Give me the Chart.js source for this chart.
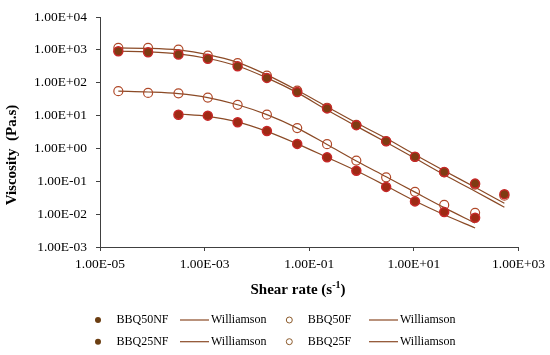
<!DOCTYPE html>
<html>
<head>
<meta charset="utf-8">
<script src="https://cdn.jsdelivr.net/npm/chart.js@4.4.1/dist/chart.umd.min.js"></script>
<style>
  html, body { margin: 0; padding: 0; background: #fff; }
  #wrap { position: relative; width: 550px; height: 355px; }
</style>
</head>
<body>
<div id="wrap"><canvas id="chart" width="550" height="355"></canvas></div>
<script>
// Shear rate (s-1) of each measured step
const shearRate = [2.24e-5, 8.3e-5, 3.16e-4, 1.15e-3, 4.27e-3, 1.55e-2, 5.89e-2, 0.219, 0.794, 2.95, 10.5, 38.0, 148, 537];

// Viscosity (Pa.s), measured and Williamson fit
const bbq50nf    = [912, 851, 724, 537, 316, 141, 52.5, 16.6, 5.13, 1.66, 0.562, 0.191, 0.0851, 0.0407];
const bbq50nfFit = [912, 871, 759, 550, 324, 141, 50.1, 14.8, 4.79, 1.55, 0.501, 0.158, 0.0501, 0.0162];
const bbq50f     = [1148, 1148, 1023, 676, 398, 166, 57.5, 17.4, 5.25, 1.66, 0.55, 0.186, 0.0794, 0.0363];
const bbq50fFit  = [1148, 1122, 1000, 724, 417, 174, 58.9, 18.6, 6.03, 2.04, 0.646, 0.209, 0.0661, 0.0214];
const bbq25nf    = [null, null, 10.7, 10.0, 6.31, 3.39, 1.38, 0.537, 0.209, 0.0676, 0.0245, 0.0117, 0.00776, null];
const bbq25nfFit = [null, null, 11.2, 9.55, 6.46, 3.31, 1.38, 0.537, 0.209, 0.0724, 0.0251, 0.00955, 0.0038, null];
const bbq25f     = [55.6, 49.0, 47.9, 35.5, 21.4, 10.7, 4.17, 1.35, 0.427, 0.132, 0.0479, 0.0191, 0.011, null];
const bbq25fFit  = [55.6, 52.5, 46.8, 35.5, 21.4, 10.7, 4.17, 1.32, 0.417, 0.138, 0.0468, 0.0158, 0.00537, null];

const xTicks = [1e-5, 1e-3, 1e-1, 1e1, 1e3];
const yTicks = [1e-3, 1e-2, 1e-1, 1, 10, 100, 1000, 10000];

const FONT = "'Liberation Serif', 'Times New Roman', serif";
const LINE = "#8B4A26";

function pts(ys) {
    return shearRate.map((x, i) => ({ x: x, y: ys[i] })).filter(p => p.y !== null);
}

function sci(v) {
    const e = Math.round(Math.log10(v));
    const m = (v / Math.pow(10, e)).toFixed(2);
    return m + "E" + (e < 0 ? "-" : "+") + String(Math.abs(e)).padStart(2, "0");
}

function markerSet(label, ys, filled, fill) {
    return {
        label: label,
        data: pts(ys),
        showLine: false,
        pointRadius: 4.5,
        pointBorderWidth: filled ? 1.5 : 1.2,
        pointBackgroundColor: filled ? fill : "rgba(255,255,255,0)",
        pointBorderColor: filled ? "#C62828" : "#B04A2A",
        order: 1,
        legendFilled: filled
    };
}

function fitSet(ys) {
    return {
        label: "Williamson",
        data: pts(ys),
        showLine: true,
        borderColor: LINE,
        borderWidth: 1.2,
        pointRadius: 0,
        cubicInterpolationMode: "monotone",
        order: 2,
        isFit: true
    };
}

const datasets = [
    markerSet("BBQ50NF", bbq50nf, true, "#7F3B12"), fitSet(bbq50nfFit),
    markerSet("BBQ50F", bbq50f, false), fitSet(bbq50fFit),
    markerSet("BBQ25NF", bbq25nf, true, "#9E2A14"), fitSet(bbq25nfFit),
    markerSet("BBQ25F", bbq25f, false), fitSet(bbq25fFit)
];

// legend in two rows of four, plus axis titles
const decorations = {
    id: "decorations",
    afterDraw(chart) {
        const ctx = chart.ctx;
        const area = chart.chartArea;
        ctx.save();
        ctx.fillStyle = "#000";

        // x title with superscript
        ctx.font = "bold 15px " + FONT;
        ctx.textBaseline = "middle";
        const a = "Shear rate (s", b = "-1", c = ")";
        const wa = ctx.measureText(a).width, wc = ctx.measureText(c).width;
        ctx.font = "bold 10px " + FONT;
        const wb = ctx.measureText(b).width;
        let x = 298 - (wa + wb + wc) / 2;
        ctx.font = "bold 15px " + FONT;
        ctx.textAlign = "left";
        ctx.fillText(a, x, 290);
        ctx.font = "bold 10px " + FONT;
        ctx.fillText(b, x + wa, 285);
        ctx.font = "bold 15px " + FONT;
        ctx.fillText(c, x + wa + wb, 290);

        // y title
        ctx.save();
        ctx.translate(12, 155);
        ctx.rotate(-Math.PI / 2);
        ctx.textAlign = "center";
        ctx.fillText("Viscosity  (Pa.s)", 0, 0);
        ctx.restore();

        // legend
        const rows = [320, 341.7];
        const cols = [98, 180, 289.3, 369];
        ctx.font = "12px " + FONT;
        ctx.textAlign = "left";
        chart.data.datasets.forEach((ds, i) => {
            const r = rows[Math.floor(i / 4)];
            const cx = cols[i % 4];
            if (ds.isFit) {
                ctx.strokeStyle = LINE;
                ctx.lineWidth = 1.2;
                ctx.beginPath();
                ctx.moveTo(cx, r);
                ctx.lineTo(cx + 29, r);
                ctx.stroke();
                ctx.fillStyle = "#000";
                ctx.fillText(ds.label, cx + 31, r);
            } else {
                ctx.beginPath();
                ctx.arc(cx, r, 3, 0, Math.PI * 2);
                if (ds.legendFilled) {
                    ctx.fillStyle = "#6B3E12";
                    ctx.fill();
                } else {
                    ctx.strokeStyle = "#8B5A2B";
                    ctx.lineWidth = 1;
                    ctx.stroke();
                }
                ctx.fillStyle = "#000";
                ctx.fillText(ds.label, cx + 18.5, r);
            }
        });
        ctx.restore();
    }
};

new Chart(document.getElementById("chart"), {
    type: "scatter",
    data: { datasets: datasets },
    options: {
        responsive: false,
        animation: false,
        layout: { padding: { top: 10, right: 31, left: 0, bottom: 0 } },
        plugins: { legend: { display: false }, tooltip: { enabled: false } },
        scales: {
            x: {
                type: "logarithmic",
                min: 1e-5,
                max: 1e3,
                afterBuildTicks: s => { s.ticks = xTicks.map(v => ({ value: v })); },
                afterFit: s => { s.height = 108; },
                border: { color: "#404040", width: 1 },
                grid: { drawOnChartArea: false, drawTicks: true, tickLength: 4, color: "#404040" },
                ticks: {
                    autoSkip: false,
                    maxRotation: 0,
                    padding: 5,
                    color: "#000",
                    font: { family: FONT, size: 13.5 },
                    callback: v => sci(v)
                }
            },
            y: {
                type: "logarithmic",
                min: 1e-3,
                max: 1e4,
                afterBuildTicks: s => { s.ticks = yTicks.map(v => ({ value: v })); },
                afterFit: s => { s.width = 100; },
                border: { color: "#404040", width: 1 },
                grid: { drawOnChartArea: false, drawTicks: true, tickLength: 4, color: "#404040" },
                ticks: {
                    autoSkip: false,
                    padding: 9,
                    color: "#000",
                    font: { family: FONT, size: 13.5 },
                    callback: v => sci(v)
                }
            }
        }
    },
    plugins: [decorations]
});
</script>
</body>
</html>
